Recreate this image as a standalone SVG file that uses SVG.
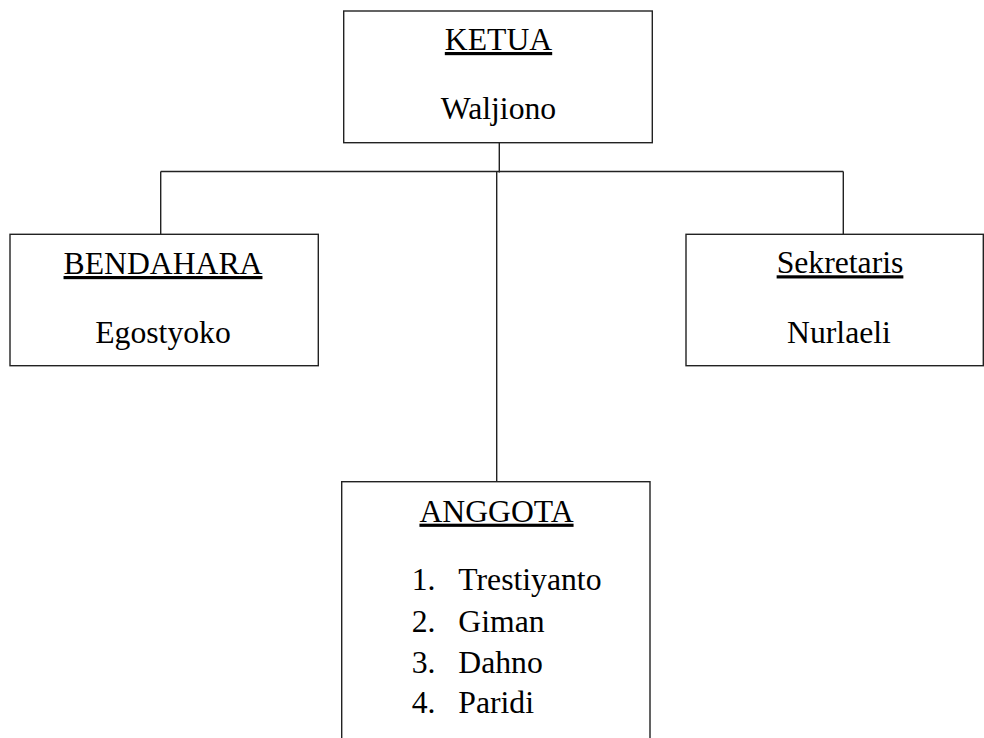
<svg xmlns="http://www.w3.org/2000/svg" width="984" height="738" viewBox="0 0 984 738">
<style>
.box{fill:#fff;stroke:#222;stroke-width:1.4}
.ln{fill:none;stroke:#222;stroke-width:1.4}
text{font-family:"Liberation Serif","Times New Roman",serif;font-size:31.7px;fill:#000}
.c{text-anchor:middle}
.u{text-decoration:underline}
</style>
<rect width="984" height="738" fill="#fff"/>
<g id="connectors">
<line class="ln" x1="499.3" y1="142.7" x2="499.3" y2="172.5"/>
<line class="ln" x1="160.7" y1="171.5" x2="843.3" y2="171.5"/>
<line class="ln" x1="160.7" y1="171.5" x2="160.7" y2="234.3"/>
<line class="ln" x1="843.3" y1="171.5" x2="843.3" y2="234.3"/>
<line class="ln" x1="496.7" y1="171.5" x2="496.7" y2="481.7"/>
</g>
<g id="ketua">
<rect class="box" x="343.7" y="11" width="308.6" height="131.7"/>
<text class="c u" x="498.5" y="50">KETUA</text>
<text class="c" x="498.5" y="119">Waljiono</text>
</g>
<g id="bendahara">
<rect class="box" x="10" y="234.3" width="308.3" height="131.4"/>
<text class="c u" x="163" y="274">BENDAHARA</text>
<text class="c" x="163" y="343">Egostyoko</text>
</g>
<g id="sekretaris">
<rect class="box" x="686" y="234.3" width="297.3" height="131.4"/>
<text class="c u" x="840" y="273.3">Sekretaris</text>
<text class="c" x="839" y="343">Nurlaeli</text>
</g>
<g id="anggota">
<rect class="box" x="341.7" y="481.7" width="308.3" height="270"/>
<text class="c u" x="496.5" y="521.7">ANGGOTA</text>
<text x="411.7" y="590">1.</text><text x="458.3" y="590">Trestiyanto</text>
<text x="411.7" y="631.7">2.</text><text x="458.3" y="631.7">Giman</text>
<text x="411.7" y="672.7">3.</text><text x="458.3" y="672.7">Dahno</text>
<text x="411.7" y="713.3">4.</text><text x="458.3" y="713.3">Paridi</text>
</g>
</svg>
